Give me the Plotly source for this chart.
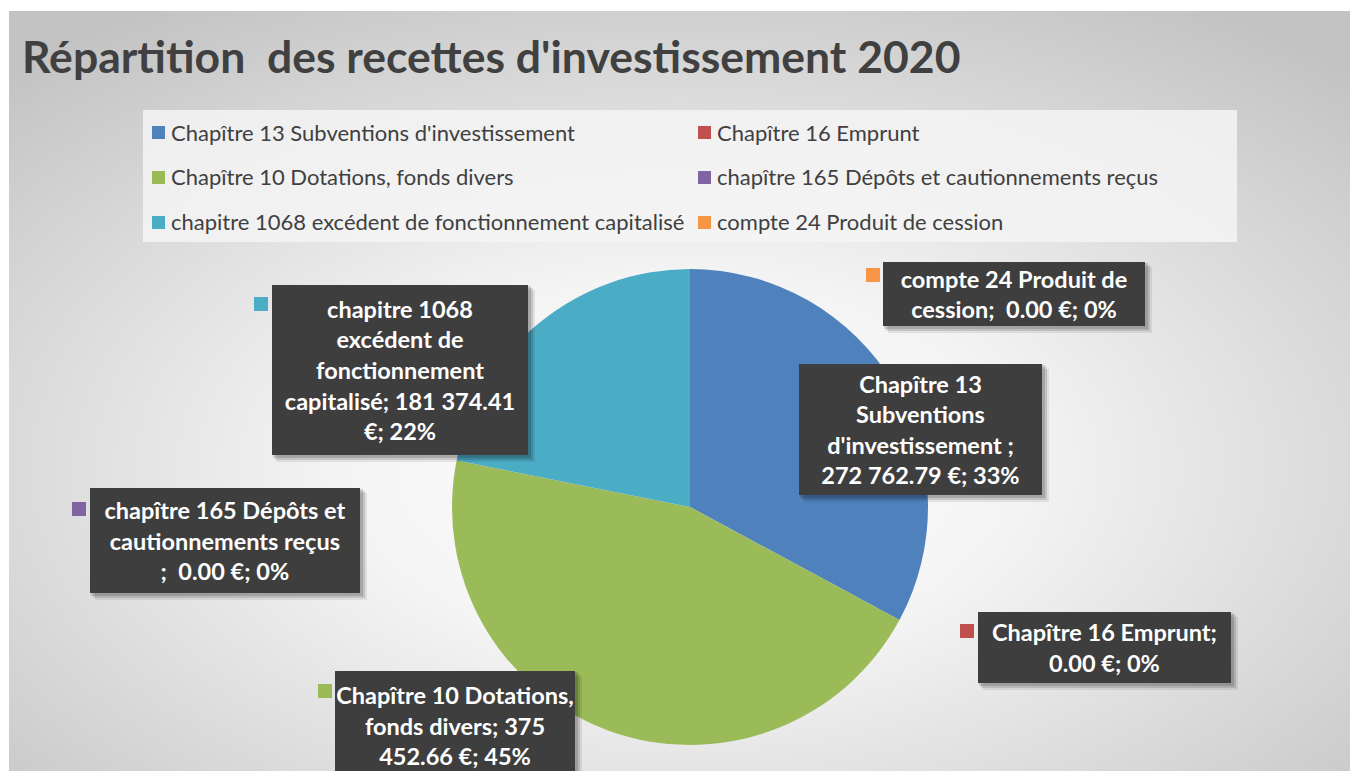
import base64
import plotly.graph_objects as go

# data
labels = [
    "Chapître 13 Subventions d'investissement",
    "Chapître 16 Emprunt",
    "Chapître 10 Dotations, fonds divers",
    "chapître 165 Dépôts et cautionnements reçus",
    "chapitre 1068 excédent de fonctionnement capitalisé",
    "compte 24 Produit de cession",
]
values = [272762.79, 0.00, 375452.66, 0.00, 181374.41, 0.00]
colors = ["#4f81bd", "#c0504d", "#9bbb59", "#8064a2", "#4bacc6", "#f79646"]

# data label texts as wrapped in the original
label_texts = [
    "Chapître 13<br>Subventions<br>d'investissement ;<br>272 762.79 €; 33%",
    "Chapître 16 Emprunt;<br>0.00 €; 0%",
    "Chapître 10 Dotations,<br>fonds divers; 375<br>452.66 €; 45%",
    "chapître 165 Dépôts et<br>cautionnements reçus<br>;  0.00 €; 0%",
    "chapitre 1068<br>excédent de<br>fonctionnement<br>capitalisé; 181 374.41<br>€; 22%",
    "compte 24 Produit de<br>cession;  0.00 €; 0%",
]

W, H = 1350, 771
FONT = "Lato"


def px(x):
    return x / W


def py(y):
    return 1 - y / H


# label boxes: (left, top, right, bottom) in pixels, marker square position or None
boxes = [
    (799, 364, 1042, 495),
    (978, 612, 1231, 683),
    (335, 671, 575, 780),
    (90, 488, 360, 593),
    (272, 285, 528, 455),
    (883, 262, 1145, 326),
]
markers = [None, (960, 624), (318, 684), (72, 502), (254, 297), (866, 268)]

fig = go.Figure()

fig.add_trace(go.Pie(
    labels=labels,
    values=values,
    marker=dict(colors=colors, line=dict(width=0)),
    sort=False,
    direction="clockwise",
    rotation=0,
    textinfo="none",
    showlegend=False,
    domain=dict(x=[px(452), px(928)], y=[py(745), py(269)]),
))

# background radial gradient
svg = (
    "<svg xmlns='http://www.w3.org/2000/svg' width='1341' height='760' preserveAspectRatio='none'>"
    "<defs><radialGradient id='g' cx='0.5' cy='0.6' r='0.72'>"
    "<stop offset='0' stop-color='#ffffff'/>"
    "<stop offset='0.35' stop-color='#f4f4f4'/>"
    "<stop offset='1' stop-color='#c3c3c3'/>"
    "</radialGradient></defs>"
    "<rect width='100%' height='100%' fill='url(#g)'/></svg>"
)
bg_src = "data:image/svg+xml;base64," + base64.b64encode(svg.encode()).decode()

shapes = []
annotations = []

# title
annotations.append(dict(
    x=px(20), y=py(56), xref="paper", yref="paper", xanchor="left", yanchor="middle",
    text="<b>Répartition  des recettes d'investissement 2020</b>", showarrow=False,
    font=dict(family=FONT, size=44.5, color="#404040"),
))

# legend box
shapes.append(dict(type="rect", xref="paper", yref="paper",
                   x0=px(143), x1=px(1237), y0=py(242), y1=py(110),
                   fillcolor="rgba(244,244,244,0.85)", line=dict(width=0), layer="below"))
for i, (lab, col) in enumerate(zip(labels, colors)):
    cx = 152 if i % 2 == 0 else 698
    cy = 132 + 45 * (i // 2)
    shapes.append(dict(type="rect", xref="paper", yref="paper",
                       x0=px(cx), x1=px(cx + 13), y0=py(cy + 7), y1=py(cy - 6),
                       fillcolor=col, line=dict(width=0)))
    annotations.append(dict(
        x=px(cx + 17), y=py(cy), xref="paper", yref="paper", xanchor="left", yanchor="middle",
        text=lab, showarrow=False, font=dict(family=FONT, size=22, color="#404040"),
    ))

# data labels
for txt, (l, t, r, b), mk, col in zip(label_texts, boxes, markers, colors):
    for off, alpha in [(7, 0.08), (5, 0.12), (3, 0.15)]:
        shapes.append(dict(type="rect", xref="paper", yref="paper",
                           x0=px(l + off - 2), x1=px(r + off), y0=py(b + off), y1=py(t + off - 2),
                           fillcolor="rgba(0,0,0,%s)" % alpha, line=dict(width=0), layer="above"))
    annotations.append(dict(
        x=px((l + r) / 2), y=py((t + b) / 2), xref="paper", yref="paper",
        xanchor="center", yanchor="middle", width=r - l, height=b - t,
        text="<b>" + txt + "</b>", showarrow=False, align="center", valign="middle",
        bgcolor="#3e3e3e", borderpad=0, borderwidth=0,
        font=dict(family=FONT, size=23.5, color="white"),
    ))
    if mk:
        shapes.append(dict(type="rect", xref="paper", yref="paper",
                           x0=px(mk[0]), x1=px(mk[0] + 14), y0=py(mk[1] + 14), y1=py(mk[1]),
                           fillcolor=col, line=dict(width=0), layer="above"))

fig.update_layout(
    width=W, height=H,
    margin=dict(l=0, r=0, t=0, b=0),
    paper_bgcolor="white",
    plot_bgcolor="white",
    shapes=shapes,
    annotations=annotations,
    images=[dict(source=bg_src, xref="paper", yref="paper", x=px(9), y=py(11),
                 sizex=px(1341), sizey=760 / H, sizing="stretch",
                 xanchor="left", yanchor="top", layer="below")],
)

fig.write_html("out.html", config={"displayModeBar": False},
               post_script="document.body.style.margin='0';")
